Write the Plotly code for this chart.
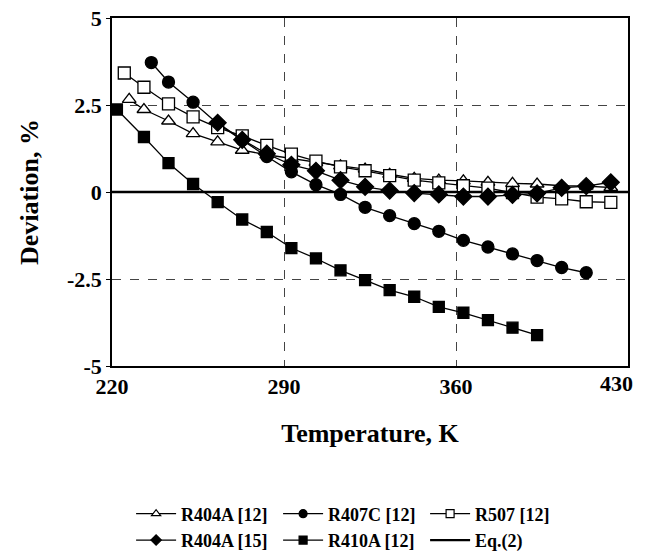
import plotly.graph_objects as go

# ---- data ----
t_r404a_12 = [227, 233, 243, 253, 263, 273, 283, 293, 303, 313, 323, 333, 343, 353, 363, 373, 383, 393, 403, 413, 423]
d_r404a_12 = [2.66, 2.37, 2.04, 1.68, 1.44, 1.20, 1.07, 0.96, 0.85, 0.75, 0.66, 0.51, 0.39, 0.34, 0.32, 0.28, 0.25, 0.23, 0.18, 0.17, 0.13]

t_r407c_12 = [236, 243, 253, 263, 273, 283, 293, 303, 313, 323, 333, 343, 353, 363, 373, 383, 393, 403, 413]
d_r407c_12 = [3.72, 3.16, 2.58, 1.96, 1.49, 1.02, 0.58, 0.21, -0.07, -0.44, -0.68, -0.91, -1.13, -1.39, -1.58, -1.78, -1.97, -2.17, -2.32]

t_r507_12 = [225, 233, 243, 253, 263, 273, 283, 293, 303, 313, 323, 333, 343, 353, 363, 373, 383, 393, 403, 413, 423]
d_r507_12 = [3.42, 3.01, 2.53, 2.16, 1.85, 1.61, 1.34, 1.09, 0.89, 0.72, 0.61, 0.47, 0.34, 0.26, 0.18, 0.11, -0.02, -0.15, -0.20, -0.28, -0.30]

t_r404a_15 = [263, 273, 283, 293, 303, 313, 323, 333, 343, 353, 363, 373, 383, 393, 403, 413, 423]
d_r404a_15 = [1.99, 1.50, 1.10, 0.78, 0.61, 0.34, 0.15, 0.04, -0.03, -0.07, -0.13, -0.13, -0.08, -0.04, 0.12, 0.17, 0.28]

t_r410a_12 = [222, 233, 243, 253, 263, 273, 283, 293, 303, 313, 323, 333, 343, 353, 363, 373, 383, 393]
d_r410a_12 = [2.37, 1.58, 0.83, 0.23, -0.29, -0.79, -1.15, -1.61, -1.91, -2.25, -2.53, -2.82, -3.01, -3.30, -3.47, -3.68, -3.90, -4.11]

t_eq2 = [220, 430]
d_eq2 = [0, 0]

x_ticks = [220, 290, 360, 430]
x_ticklabels = ["220", "290", "360", "430"]
y_ticks = [-5, -2.5, 0, 2.5, 5]
y_ticklabels = ["-5", "-2.5", "0", "2.5", "5"]

FONT = "Liberation Serif"
fig = go.Figure()

series = [
    ("R404A [12]", t_r404a_12, d_r404a_12, "triangle-up", "white", 12),
    ("R407C [12]", t_r407c_12, d_r407c_12, "circle", "black", 12),
    ("R507 [12]", t_r507_12, d_r507_12, "square", "white", 12),
    ("R404A [15]", t_r404a_15, d_r404a_15, "diamond", "black", 13),
    ("R410A [12]", t_r410a_12, d_r410a_12, "square", "black", 11),
]

fig.add_trace(go.Scatter(x=t_eq2, y=d_eq2, name="Eq.(2)", mode="lines",
                         line=dict(color="black", width=2.5), showlegend=False))
for name, t, d, sym, fill, size in series:
    fig.add_trace(go.Scatter(
        x=t, y=d, name=name, mode="lines+markers", showlegend=False,
        line=dict(color="black", width=1.3),
        marker=dict(symbol=sym, size=size, color=fill,
                    line=dict(color="black", width=1.3)),
    ))
# legend entries (smaller symbols as in the reference legend)
for name, t, d, sym, fill, size in series:
    fig.add_trace(go.Scatter(
        x=[None], y=[None], name=name, mode="lines+markers",
        line=dict(color="black", width=1.3),
        marker=dict(symbol=sym, size=8, color=fill,
                    line=dict(color="black", width=1.2)),
    ))
fig.add_trace(go.Scatter(x=[None], y=[None], name="Eq.(2)", mode="lines",
                         line=dict(color="black", width=2.2)))

# last x tick label sits left of the axis end in the reference
fig.add_annotation(x=x_ticks[-1], y=0, xref="x", yref="paper", text=x_ticklabels[-1],
                   showarrow=False, xanchor="right", yanchor="top", xshift=7, yshift=-3,
                   font=dict(family=FONT, size=22, color="black", weight="bold"))

fig.update_layout(
    width=647, height=554,
    margin=dict(l=112, r=19, t=18, b=188, autoexpand=False),
    paper_bgcolor="white", plot_bgcolor="white",
    font=dict(family=FONT, color="black"),
    legend=dict(orientation="h", x=0.037, y=-0.372, xanchor="left", yanchor="top",
                font=dict(family=FONT, size=18, color="black", weight="bold"),
                entrywidth=92, entrywidthmode="pixels",
                tracegroupgap=0, itemwidth=40, bgcolor="rgba(0,0,0,0)"),
)
fig.update_xaxes(
    range=[220, 430], tickvals=x_ticks, ticktext=x_ticklabels[:-1] + [""],
    showline=True, linecolor="black", linewidth=1.5, mirror=True,
    showgrid=True, gridcolor="#444", griddash="dash", gridwidth=1,
    zeroline=False, ticks="", automargin=False,
    tickfont=dict(family=FONT, size=22, color="black", weight="bold"),
    title=dict(text="Temperature, K", standoff=26,
               font=dict(family=FONT, size=26, color="black", weight="bold")),
)
fig.update_yaxes(
    range=[-5, 5], tickvals=y_ticks, ticktext=y_ticklabels,
    showline=True, linecolor="black", linewidth=1.5, mirror=True,
    showgrid=True, gridcolor="#444", griddash="dash", gridwidth=1,
    zeroline=False, ticks="outside", ticklen=4, tickcolor="black", automargin=False,
    ticklabeloverflow="allow",
    tickfont=dict(family=FONT, size=22, color="black", weight="bold"),
    title=dict(text="Deviation, %", standoff=21,
               font=dict(family=FONT, size=26, color="black", weight="bold")),
)

fig.write_html("out.html", config={"displayModeBar": False},
               post_script="document.body.style.margin='0';document.body.style.overflow='hidden';")
